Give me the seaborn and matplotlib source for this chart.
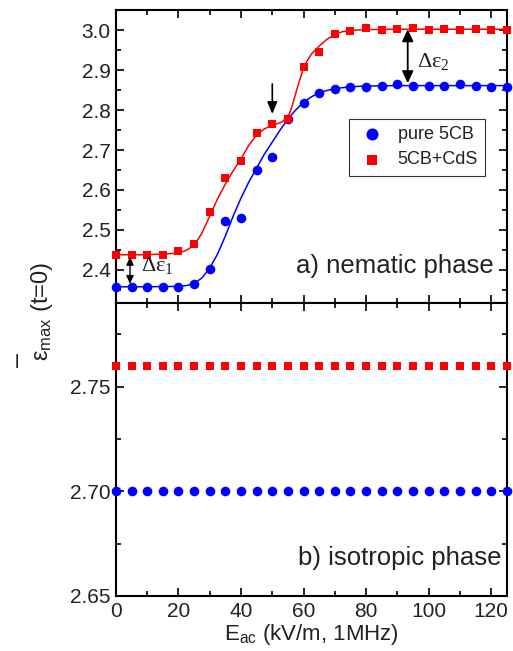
import numpy as np
import pandas as pd
import matplotlib
matplotlib.use("Agg")
import matplotlib.pyplot as plt
import seaborn as sns
from matplotlib.ticker import MultipleLocator, FormatStrFormatter

# 电场强度 (kV/m)
e_ac = [0, 5, 10, 15, 20, 25, 30, 35, 40, 45, 50, 55, 60,
        65, 70, 75, 80, 85, 90, 95, 100, 105, 110, 115, 120, 125]

# a) nematic phase
nem_pure = [2.358, 2.358, 2.358, 2.358, 2.358, 2.366, 2.4025, 2.523, 2.531, 2.65,
            2.683, 2.7775, 2.817, 2.843, 2.853, 2.857, 2.858, 2.861, 2.865, 2.86,
            2.861, 2.861, 2.865, 2.86, 2.858, 2.858]
nem_cds = [2.4375, 2.4375, 2.4375, 2.4375, 2.448, 2.465, 2.544, 2.63, 2.673, 2.743,
           2.764, 2.7775, 2.908, 2.944, 2.99, 2.9975, 3.006, 3.001, 3.002, 3.004,
           3.0, 3.002, 3.0, 3.002, 3.001, 3.001]

# 拟合曲线
fit_x = [0, 10, 20, 22.5, 25, 27.5, 30, 32.5, 35, 37.5, 40, 42.5, 45, 47.5, 50,
         52.5, 55, 56.25, 57.5, 58.75, 60, 61.25, 62.5, 65, 67.5, 70, 72.5, 75,
         80, 90, 100, 110, 125]
fit_pure = [2.358, 2.358, 2.359, 2.361, 2.366, 2.38, 2.405, 2.44, 2.485, 2.535, 2.58,
            2.62, 2.655, 2.69, 2.72, 2.75, 2.777, 2.789, 2.80, 2.81, 2.818, 2.826,
            2.833, 2.843, 2.849, 2.853, 2.856, 2.858, 2.86, 2.861, 2.861, 2.861, 2.861]
fit_cds = [2.438, 2.438, 2.442, 2.449, 2.462, 2.492, 2.535, 2.578, 2.615, 2.648, 2.678,
           2.712, 2.738, 2.753, 2.762, 2.768, 2.78, 2.808, 2.842, 2.875, 2.905, 2.924,
           2.94, 2.96, 2.977, 2.989, 2.996, 2.999, 3.001, 3.002, 3.002, 3.002, 3.002]

# b) isotropic phase
iso_pure = [2.70] * 26
iso_cds = [2.76] * 26

BLUE = "#0000ff"
RED = "#ff0000"
TXT = "#222222"

sns.set_theme(style="ticks")
plt.rcParams['font.family'] = ['Liberation Sans', 'DejaVu Sans']
plt.rcParams['mathtext.fontset'] = 'custom'
plt.rcParams['mathtext.rm'] = 'Liberation Sans'
plt.rcParams['mathtext.it'] = 'Liberation Sans:italic'

fig = plt.figure(figsize=(5.13, 6.51), dpi=100)
ax1 = fig.add_axes([0.226, 0.5346, 0.762, 0.45])
ax2 = fig.add_axes([0.226, 0.0845, 0.762, 0.4501])

# ---- 上图: nematic ----
sns.lineplot(x=fit_x, y=fit_pure, ax=ax1, color=BLUE, lw=1.1)
sns.lineplot(x=fit_x, y=fit_cds, ax=ax1, color=RED, lw=1.1)
sns.scatterplot(x=e_ac, y=nem_pure, ax=ax1, color=BLUE, marker='o', s=48,
                linewidth=0, label='pure 5CB', zorder=3, clip_on=False)
sns.scatterplot(x=e_ac, y=nem_cds, ax=ax1, color=RED, marker='s', s=34,
                linewidth=0, label='5CB+CdS', zorder=3, clip_on=False)

ax1.set_ylim(2.3175, 3.05)
ax1.set_yticks([2.4, 2.5, 2.6, 2.7, 2.8, 2.9, 3.0])
ax1.yaxis.set_minor_locator(MultipleLocator(0.05))
ax1.yaxis.set_major_formatter(FormatStrFormatter('%.1f'))

leg = ax1.legend(loc='upper left', bbox_to_anchor=(0.596, 0.628), borderaxespad=0,
                 fontsize=13, frameon=True, fancybox=False, edgecolor='black',
                 handlelength=1.8, handletextpad=0.5, borderpad=0.4,
                 labelspacing=0.45, markerscale=1.25)
leg.get_frame().set_linewidth(0.8)
for t in leg.get_texts():
    t.set_color(TXT)

ax1.text(120.9, 2.3925, 'a) nematic phase', ha='right', va='baseline', fontsize=18.5,
         color=TXT)

# 箭头标注
ax1.annotate('', xy=(50, 2.783), xytext=(50, 2.872),
             arrowprops=dict(arrowstyle='-|>,head_length=0.6,head_width=0.25',
                             color='black', lw=1.2))
ax1.annotate('', xy=(4.5, 2.365), xytext=(4.5, 2.433),
             arrowprops=dict(arrowstyle='<|-|>,head_length=0.4,head_width=0.18',
                             color='black', lw=1.0, shrinkA=0, shrinkB=0))
ax1.text(8.0, 2.41, r'$\mathregular{\Delta\epsilon_1}$', fontsize=16,
         family='Liberation Serif', va='center', color=TXT)
ax1.annotate('', xy=(93.3, 2.867), xytext=(93.3, 3.002),
             arrowprops=dict(arrowstyle='<|-|>,head_length=0.6,head_width=0.28',
                             color='black', lw=1.3, shrinkA=0, shrinkB=0))
ax1.text(96.3, 2.922, r'$\mathregular{\Delta\epsilon_2}$', fontsize=16,
         family='Liberation Serif', va='center', color=TXT)

# ---- 下图: isotropic ----
sns.scatterplot(x=e_ac, y=iso_pure, ax=ax2, color=BLUE, marker='o', s=48,
                linewidth=0, zorder=3, clip_on=False)
sns.scatterplot(x=e_ac, y=iso_cds, ax=ax2, color=RED, marker='s', s=34,
                linewidth=0, zorder=3, clip_on=False)
ax2.set_ylim(2.65, 2.79)
ax2.set_yticks([2.65, 2.70, 2.75])
ax2.yaxis.set_minor_locator(MultipleLocator(0.025))
ax2.yaxis.set_major_formatter(FormatStrFormatter('%.2f'))
ax2.text(123.2, 2.6646, 'b) isotropic phase', ha='right', va='baseline',
         fontsize=18.5, color=TXT)

for ax in (ax1, ax2):
    ax.set_xlim(0, 125)
    ax.xaxis.set_major_locator(MultipleLocator(20))
    ax.xaxis.set_minor_locator(MultipleLocator(10))
    ax.tick_params(which='both', direction='in', top=True, right=True,
                   color='black', width=1.2, labelsize=15, labelcolor=TXT)
    ax.tick_params(which='major', length=6, pad=4)
    ax.tick_params(which='minor', length=3.5)
    for sp in ax.spines.values():
        sp.set_color('black')
        sp.set_linewidth(1.5)
    ax.set_xlabel('')
    ax.set_ylabel('')

ax1.tick_params(labelbottom=False)
ax2.set_xlabel(r'E$_\mathregular{ac}$ (kV/m, 1MHz)', fontsize=16, color=TXT,
               labelpad=1)

# 纵轴标题: 横线单独画, 与 Origin 原图一致
fig.text(0.082, 0.522, r'ε$_\mathregular{max}$ (t=0)', rotation=90,
         fontsize=17, ha='center', va='center', color=TXT)
fig.text(0.036, 0.447, '–', rotation=90, fontsize=18, ha='center', va='center',
         color=TXT)

plt.savefig('out.png', dpi=100)
